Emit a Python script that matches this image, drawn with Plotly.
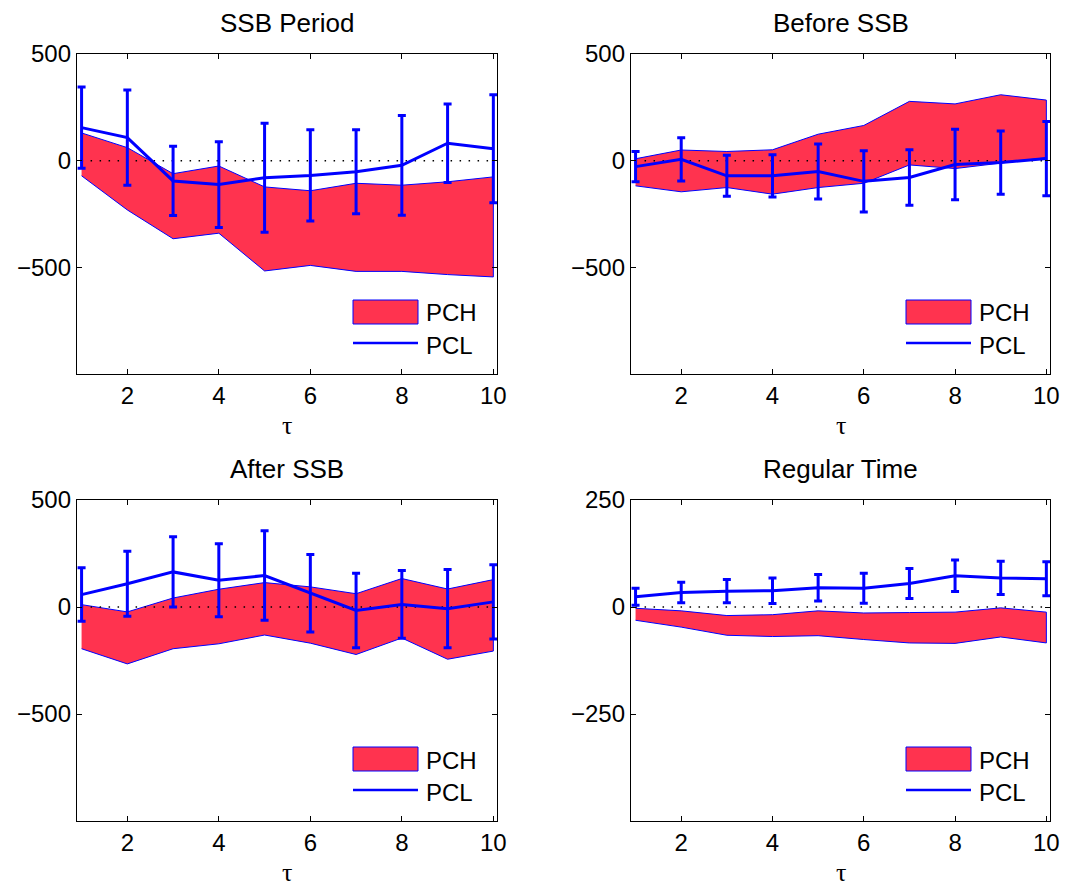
import plotly.graph_objects as go

tau = list(range(1, 11))
titles = ["SSB Period", "Before SSB", "After SSB", "Regular Time"]
legend_labels = ["PCH", "PCL"]

# SSB Period
ssb_pcl = [155, 108, -95, -112, -80, -69, -52, -22, 82, 56]
ssb_err = [190, 223, 162, 201, 255, 214, 197, 234, 184, 253]
ssb_hi = [130, 61, -61, -25, -123, -141, -106, -115, -99, -76]
ssb_lo = [-71, -231, -366, -340, -517, -491, -519, -519, -534, -545]

# Before SSB
bef_pcl = [-28, 6, -71, -71, -51, -97, -79, -18, -9, 10]
bef_err = [71, 101, 96, 99, 129, 144, 130, 165, 148, 174]
bef_hi = [9, 50, 43, 51, 124, 165, 278, 266, 309, 284]
bef_lo = [-118, -146, -126, -157, -126, -106, -20, -37, -12, 14]

# After SSB
aft_pcl = [58, 109, 164, 125, 147, 64, -16, 12, -8, 24]
aft_err = [125, 152, 164, 171, 209, 181, 174, 158, 183, 173]
aft_hi = [11, -23, 42, 83, 114, 94, 62, 133, 84, 128]
aft_lo = [-195, -266, -195, -172, -131, -169, -222, -145, -244, -206]

# Regular Time
reg_pcl = [24, 34, 37, 38, 45, 44, 55, 73, 68, 66]
reg_err = [20, 24, 27, 30, 31, 35, 35, 37, 39, 40]
reg_hi = [-3, -9, -20, -18, -9, -14, -13, -12, -2, -12]
reg_lo = [-31, -47, -66, -69, -67, -76, -84, -85, -70, -84]

y_ranges = [[-1000, 500], [-1000, 500], [-1000, 500], [-500, 250]]
y_ticks = [[-500, 0, 500], [-500, 0, 500], [-500, 0, 500], [-250, 0, 250]]
x_ticks = [2, 4, 6, 8, 10]

panels = [
    (ssb_pcl, ssb_err, ssb_hi, ssb_lo),
    (bef_pcl, bef_err, bef_hi, bef_lo),
    (aft_pcl, aft_err, aft_hi, aft_lo),
    (reg_pcl, reg_err, reg_hi, reg_lo),
]

W, H = 1067, 886
RED = "#FF334F"
BLUE = "#0000FF"
FONT = "Liberation Sans, Arial, sans-serif"
TICK = 24

# panel pixel boxes (left, top, right, bottom)
boxes = [(77, 54, 497, 374), (631, 54, 1050, 374),
         (77, 500, 497, 821), (631, 500, 1050, 821)]

def px(x):
    return x / W

def py(y):
    return 1 - y / H

fig = go.Figure()
annotations = []
shapes = []
layout = dict(width=W, height=H, margin=dict(l=0, r=0, t=0, b=0, autoexpand=False),
              template="none", showlegend=False,
              paper_bgcolor="white", plot_bgcolor="white",
              font=dict(family=FONT, size=TICK, color="black"))

for i, (pcl, err, hi, lo) in enumerate(panels):
    n = i + 1
    xa = "x" if n == 1 else f"x{n}"
    ya = "y" if n == 1 else f"y{n}"
    # band
    fig.add_trace(go.Scatter(
        x=tau + tau[::-1], y=hi + lo[::-1], fill="toself", fillcolor=RED,
        line=dict(color=BLUE, width=1), mode="lines", name=legend_labels[0],
        xaxis=xa, yaxis=ya))
    # zero dotted line
    fig.add_trace(go.Scatter(
        x=[tau[0], tau[-1]], y=[0, 0], mode="lines",
        line=dict(color="black", width=1.5, dash="1.5px,7.5px"),
        xaxis=xa, yaxis=ya, hoverinfo="skip"))
    # PCL with error bars
    fig.add_trace(go.Scatter(
        x=tau, y=pcl, mode="lines", name=legend_labels[1],
        line=dict(color=BLUE, width=3),
        error_y=dict(type="data", array=err, color=BLUE, thickness=3, width=4),
        xaxis=xa, yaxis=ya))

    l, t, r, b = boxes[i]
    axx = "xaxis" if n == 1 else f"xaxis{n}"
    axy = "yaxis" if n == 1 else f"yaxis{n}"
    layout[axx] = dict(domain=[px(l), px(r)], anchor=ya, range=[0.9, 10.08],
                       tickvals=x_ticks, ticks="inside", ticklen=5, tickcolor="black",
                       showline=True, linecolor="black", linewidth=1.3,
                       mirror="ticks", showgrid=False, zeroline=False,
                       automargin=False, tickfont=dict(size=TICK))
    layout[axy] = dict(domain=[py(b), py(t)], anchor=xa, range=y_ranges[i],
                       tickvals=y_ticks[i], ticks="inside", ticklen=5, tickcolor="black",
                       showline=True, linecolor="black", linewidth=1.3,
                       mirror="ticks", showgrid=False, zeroline=False,
                       automargin=False, tickfont=dict(size=TICK))
    # title
    annotations.append(dict(
        text=titles[i], x=px((l + r) / 2), y=py(t - 31), xref="paper", yref="paper",
        xanchor="center", yanchor="middle", showarrow=False, font=dict(size=26)))
    # tau axis label
    annotations.append(dict(
        text="τ", x=px((l + r) / 2), y=py(b + 51), xref="paper", yref="paper",
        xanchor="center", yanchor="middle", showarrow=False,
        font=dict(family="Liberation Serif, DejaVu Serif, serif", size=26)))
    # legend (patch + line + labels)
    shapes.append(dict(type="rect", xref="paper", yref="paper",
                       x0=px(r - 144), x1=px(r - 79), y0=py(b - 50), y1=py(b - 74),
                       fillcolor=RED, line=dict(color=BLUE, width=1)))
    shapes.append(dict(type="line", xref="paper", yref="paper",
                       x0=px(r - 144), x1=px(r - 79), y0=py(b - 31), y1=py(b - 31),
                       line=dict(color=BLUE, width=2.5)))
    annotations.append(dict(
        text=legend_labels[0], x=px(r - 73), y=py(b - 61), xref="paper", yref="paper",
        xanchor="left", yanchor="middle", showarrow=False, font=dict(size=TICK)))
    annotations.append(dict(
        text=legend_labels[1], x=px(r - 73), y=py(b - 29), xref="paper", yref="paper",
        xanchor="left", yanchor="middle", showarrow=False, font=dict(size=TICK)))

layout["annotations"] = annotations
layout["shapes"] = shapes
fig.update_layout(**layout)
fig.write_html("out.html",
               config={"displayModeBar": False},
               post_script="document.body.style.margin='0px';"
                           "document.body.style.overflow='hidden';")
